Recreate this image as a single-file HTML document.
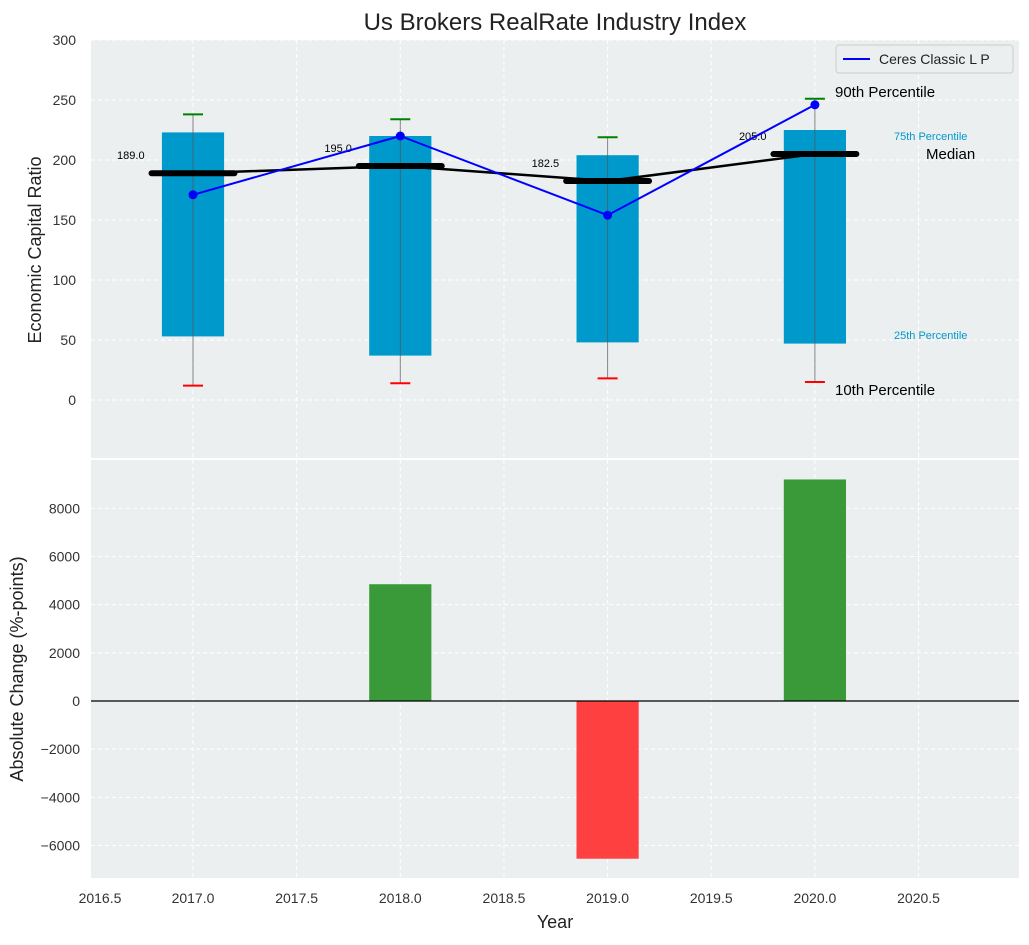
<!DOCTYPE html>
<html><head><meta charset="utf-8"><style>
body{margin:0;background:#fff;font-family:"Liberation Sans","DejaVu Sans",sans-serif}
</style></head><body>
<svg id="c" width="1029" height="940" xmlns="http://www.w3.org/2000/svg" font-family="Liberation Sans, DejaVu Sans, sans-serif"></svg>
<script>
const years=[2017,2018,2019,2020];
const p10=[12,14,18,15];
const p25=[53,37,48,47];
const p50=[189.0,195.0,182.5,205.0];
const p75=[223,220,204,225];
const p90=[238,234,219,251];
const ceres=[171,220,154,246];
const changes=[0,4850,-6550,9200];
const xTicks=[2016.5,2017.0,2017.5,2018.0,2018.5,2019.0,2019.5,2020.0,2020.5];
const yTopTicks=[0,50,100,150,200,250,300];
const yBotTicks=[-6000,-4000,-2000,0,2000,4000,6000,8000];

const S=document.getElementById('c');const NS='http://www.w3.org/2000/svg';
function el(t,a,txt,p){const e=document.createElementNS(NS,t);for(const k in a)e.setAttribute(k,a[k]);if(txt!=null)e.textContent=txt;(p||S).appendChild(e);return e;}
const L=91,R=1019;
const x=v=>193+(v-2017)*207.3;
const T0=40,T1=458,yt=v=>400-v*1.2;
const B0=460,B1=878,yb=v=>701-v*0.02408;
const fmt=v=>String(v).replace('-','\u2212');

let e=el('rect',{x:L,y:T0,width:R-L,height:T1-T0,fill:'#eceff0'});

e=el('rect',{x:L,y:B0,width:R-L,height:B1-B0,fill:'#eceff0'});

const g='stroke:#fff;stroke-dasharray:4,3;stroke-width:1';
xTicks.forEach(t=>{el('line',{x1:x(t),x2:x(t),y1:T0,y2:T1,style:g});el('line',{x1:x(t),x2:x(t),y1:B0,y2:B1,style:g});
 e=el('text',{x:t===2016.5?100:x(t),y:903,'text-anchor':'middle','font-size':14,fill:'#333'},t.toFixed(1));
 });
yTopTicks.forEach(t=>{el('line',{x1:L,x2:R,y1:yt(t),y2:yt(t),style:g});
 e=el('text',{x:76,y:yt(t)+5,'text-anchor':'end','font-size':14,fill:'#333'},t);
 });
yBotTicks.forEach(t=>{el('line',{x1:L,x2:R,y1:yb(t),y2:yb(t),style:g});
 e=el('text',{x:80,y:yb(t)+5,'text-anchor':'end','font-size':14,fill:'#333'},fmt(t));
 });

const hw=(x(2017.15)-x(2017));
years.forEach((yr,i)=>{
 e=el('rect',{x:x(yr)-hw,y:yt(p75[i]),width:2*hw,height:yt(p25[i])-yt(p75[i]),fill:'#0099cc'});
 
 el('line',{x1:x(yr),x2:x(yr),y1:yt(p90[i]),y2:yt(p10[i]),stroke:'#555','stroke-width':1,opacity:0.7});
 e=el('line',{x1:x(yr)-10,x2:x(yr)+10,y1:yt(p90[i]),y2:yt(p90[i]),stroke:'green','stroke-width':2});
 
 e=el('line',{x1:x(yr)-10,x2:x(yr)+10,y1:yt(p10[i]),y2:yt(p10[i]),stroke:'red','stroke-width':2});
 
});
e=el('polyline',{points:years.map((yr,i)=>x(yr)+','+yt(p50[i])).join(' '),fill:'none',stroke:'#000','stroke-width':2.5});

years.forEach((yr,i)=>{
 e=el('line',{x1:x(yr-0.2),x2:x(yr+0.2),y1:yt(p50[i]),y2:yt(p50[i]),stroke:'#000','stroke-width':6,'stroke-linecap':'round'});
 
 e=el('text',{x:x(yr-0.3),y:yt(p50[i])-14,'text-anchor':'middle','font-size':11,fill:'#000'},p50[i].toFixed(1));
 
});
e=el('polyline',{points:years.map((yr,i)=>x(yr)+','+yt(ceres[i])).join(' '),fill:'none',stroke:'blue','stroke-width':2});

years.forEach((yr,i)=>{e=el('circle',{cx:x(yr),cy:yt(ceres[i]),r:4.5,fill:'blue'});
 });
const ann=[['90th Percentile',835,97,15,'#000'],['75th Percentile',894,140,11,'#0099cc'],['Median',926,159,15,'#000'],['25th Percentile',894,339,11,'#0099cc'],['10th Percentile',835,395,15,'#000']];
ann.forEach(a=>{e=el('text',{x:a[1],y:a[2],'font-size':a[3],fill:a[4]},a[0]);
 });
e=el('g',{});
el('rect',{x:836,y:45,width:177,height:28,rx:3,fill:'#eceff0',stroke:'#ccc'},null,e);
el('line',{x1:843,x2:870,y1:59,y2:59,stroke:'blue','stroke-width':2},null,e);
el('text',{x:879,y:64,'font-size':14,fill:'#222'},'Ceres Classic L P',e);

years.forEach((yr,i)=>{if(!changes[i])return;const v=changes[i];
 e=el('rect',{x:x(yr)-hw,y:Math.min(yb(0),yb(v)),width:2*hw,height:Math.abs(yb(v)-yb(0)),fill:v>0?'#3a9a3a':'#ff4040'});
 });
e=el('line',{x1:L,x2:R,y1:yb(0),y2:yb(0),stroke:'#000','stroke-width':1.3});


e=el('text',{x:555,y:30,'text-anchor':'middle','font-size':24,fill:'#222'},'Us Brokers RealRate Industry Index');

e=el('text',{x:0,y:0,transform:'translate(41,250) rotate(-90)','text-anchor':'middle','font-size':18,fill:'#222'},'Economic Capital Ratio');

e=el('text',{x:0,y:0,transform:'translate(23,669) rotate(-90)','text-anchor':'middle','font-size':18,fill:'#222'},'Absolute Change (%-points)');

e=el('text',{x:555,y:928,'text-anchor':'middle','font-size':18,fill:'#222'},'Year');

</script>
</body></html>
